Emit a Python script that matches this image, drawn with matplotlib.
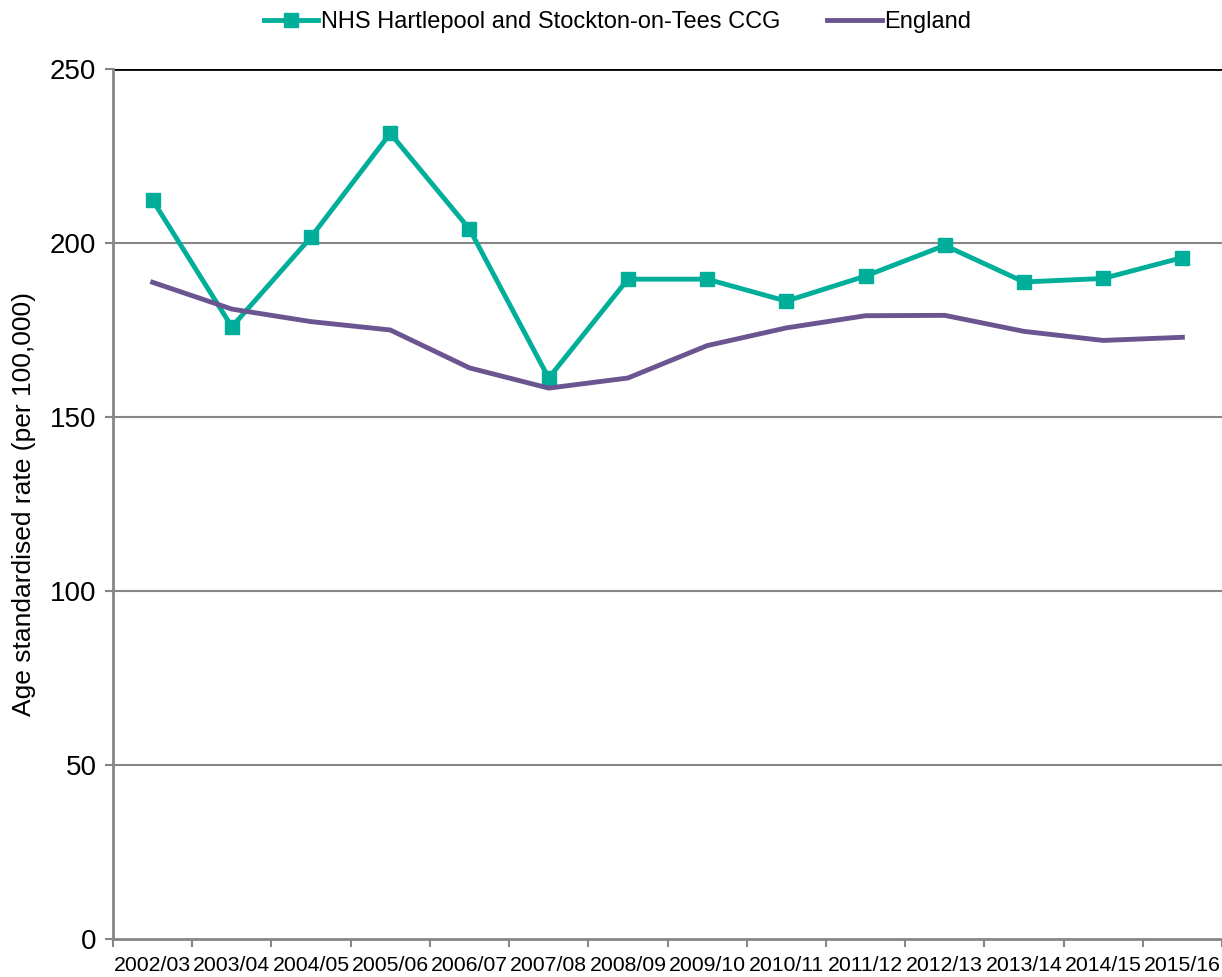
import numpy as np
import matplotlib.pyplot as plt
from matplotlib.ticker import FixedLocator

plt.rcParams['font.family'] = ['Liberation Sans', 'DejaVu Sans']

years = ['2002/03', '2003/04', '2004/05', '2005/06', '2006/07', '2007/08', '2008/09',
         '2009/10', '2010/11', '2011/12', '2012/13', '2013/14', '2014/15', '2015/16']
ccg = [212.3, 175.9, 201.7, 231.5, 204.0, 161.2, 189.6,
       189.6, 183.3, 190.5, 199.3, 188.8, 189.8, 195.8]
england = [188.7, 181.0, 177.4, 175.0, 164.1, 158.3, 161.2,
           170.5, 175.6, 179.1, 179.2, 174.6, 172.0, 172.9]
y_ticks = [0, 50, 100, 150, 200, 250]

fig = plt.figure(figsize=(12.22, 9.77), dpi=100)
ax = fig.add_axes([0.0925, 0.0389, 0.9075, 0.8905])

x = np.arange(len(years))
ax.plot(x, ccg, color='#00AE9A', lw=3.5, marker='s', ms=10,
        label='NHS Hartlepool and Stockton-on-Tees CCG')
ax.plot(x, england, color='#6B5591', lw=3.5, label='England')

ax.set_xlim(-0.5, len(years) - 0.5)
ax.set_ylim(0, 250)
ax.set_yticks(y_ticks)
ax.set_xticks(x)
ax.set_xticklabels(years, fontsize=15.3)
ax.xaxis.set_minor_locator(FixedLocator(np.arange(-0.5, len(years), 1)))
ax.tick_params(axis='x', which='major', length=0, pad=12)
ax.tick_params(axis='x', which='minor', length=6, color='#868686', width=1.5)
ax.tick_params(axis='y', labelsize=20, length=6, color='#868686', width=1.5, pad=6)

for v in y_ticks[1:-1]:
    ax.axhline(v, color='#868686', lw=1.5, zorder=0)
ax.axhline(250, color='black', lw=2, zorder=0)

for s in ['top', 'right']:
    ax.spines[s].set_visible(False)
for s in ['left', 'bottom']:
    ax.spines[s].set_color('#868686')
    ax.spines[s].set_linewidth(2)

ax.set_ylabel('Age standardised rate (per 100,000)', fontsize=19, labelpad=10)

ax.legend(loc='lower center', bbox_to_anchor=(0.455, 1.03), ncol=2, frameon=False,
          fontsize=17, handlelength=2.3, columnspacing=2.0, handletextpad=0.1,
          borderaxespad=0)

fig.savefig('out.png', dpi=100)
